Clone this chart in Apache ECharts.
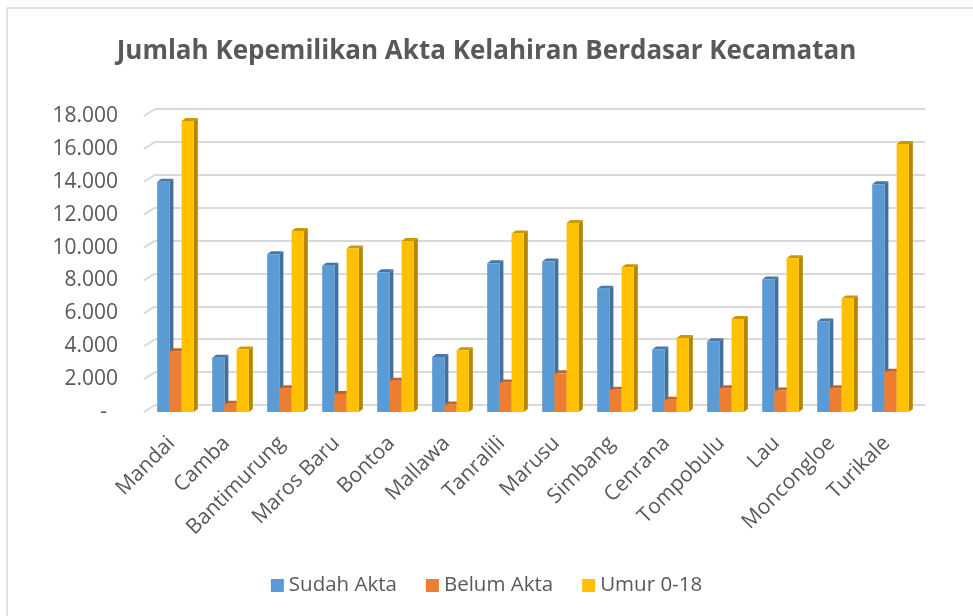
<!DOCTYPE html>
<html>
<head>
<meta charset="utf-8">
<script src="https://cdn.jsdelivr.net/npm/echarts@6/dist/echarts.min.js"></script>
<style>
	html, body { margin: 0; padding: 0; background: #fff; }
	#chart { width: 973px; height: 616px; }
</style>
</head>
<body>
<div id="chart"></div>
<script>
'use strict';

var kecamatan = ['Mandai', 'Camba', 'Bantimurung', 'Maros Baru', 'Bontoa', 'Mallawa', 'Tanralili',
		'Marusu', 'Simbang', 'Cenrana', 'Tompobulu', 'Lau', 'Moncongloe', 'Turikale'];
var sudahAkta = [14000, 3300, 9600, 8900, 8500, 3350, 9050, 9150, 7500, 3800, 4300, 8050, 5500, 13850];
var belumAkta = [3700, 500, 1450, 1100, 1900, 450, 1800, 2350, 1350, 750, 1450, 1300, 1450, 2450];
var umur018 = [17700, 3800, 11000, 9950, 10400, 3750, 10850, 11500, 8800, 4500, 5650, 9350, 6900, 16300];
var yTicks = [0, 2000, 4000, 6000, 8000, 10000, 12000, 14000, 16000, 18000];

var textColor = '#595959',
		gridColor = '#d9d9d9',
		depthX = 4, depthY = 3,   // bar depth
		wallX = 11, wallY = 7;    // back wall offset

// accounting style: 12.000, zero as a dash
function fmtNum(v) {
	if (v === 0) return '-  ';
	return String(v).replace(/\B(?=(\d{3})+(?!\d))/g, '.');
}

function barSeries(name, values, idx, front, side, top) {
	return {
		name: name,
		type: 'custom',
		xAxisIndex: 1,
		yAxisIndex: 1,
		itemStyle: { color: front },
		data: values.map(function (v, i) { return [i, v]; }),
		renderItem: function (params, api) {
			var cat = api.value(0),
					base = api.coord([cat, 0]),
					tp = api.coord([cat, api.value(1)]),
					band = api.size([1, 0])[0],
					bw = band * 0.222,
					x0 = base[0] - 1.5 * bw + idx * bw + 4,
					x1 = x0 + bw,
					y0 = tp[1], y1 = base[1];
			return {
				type: 'group',
				children: [
					{ type: 'polygon', shape: { points: [[x1, y0], [x1 + depthX, y0 - depthY], [x1 + depthX, y1 - depthY], [x1, y1]] }, style: { fill: side } },
					{ type: 'polygon', shape: { points: [[x0, y0], [x0 + depthX, y0 - depthY], [x1 + depthX, y0 - depthY], [x1, y0]] }, style: { fill: top } },
					{ type: 'rect', shape: { x: x0, y: y0, width: bw, height: y1 - y0 }, style: { fill: front } }
				]
			};
		}
	};
}

var chart = echarts.init(document.getElementById('chart'));

chart.setOption({
	animation: false,
	backgroundColor: '#fff',
	graphic: [{
		type: 'rect',
		shape: { x: 7, y: 8, width: 1000, height: 700 },
		style: { fill: 'none', stroke: gridColor, lineWidth: 1.5 },
		silent: true
	}],
	title: {
		text: 'Jumlah Kepemilikan Akta Kelahiran Berdasar Kecamatan',
		left: 'center',
		top: 34,
		textStyle: { fontFamily: 'Open Sans', fontWeight: 'bold', fontSize: 26, color: textColor }
	},
	legend: {
		bottom: 15,
		left: 'center',
		icon: 'rect',
		itemWidth: 13,
		itemHeight: 13,
		itemGap: 29,
		textStyle: { fontFamily: 'Open Sans', fontSize: 20.5, color: textColor },
		data: ['Sudah Akta', 'Belum Akta', 'Umur 0-18']
	},
	grid: [
		// back wall
		{ left: 155, right: 48, top: 109, bottom: 211 },
		// front plane
		{ left: 144, right: 59, top: 116, bottom: 204 }
	],
	xAxis: [
		{ gridIndex: 0, type: 'category', data: kecamatan, show: false },
		{
			gridIndex: 1,
			type: 'category',
			data: kecamatan,
			axisLine: { show: false },
			axisTick: { show: false },
			axisLabel: { rotate: 45, margin: 28, interval: 0, fontFamily: 'Open Sans', fontSize: 21, color: textColor }
		}
	],
	yAxis: [
		{
			gridIndex: 0, type: 'value', min: 0, max: 18000, interval: 2000,
			axisLabel: { show: false }, axisLine: { show: false }, axisTick: { show: false },
			splitLine: { lineStyle: { color: gridColor, width: 2 } }
		},
		{
			gridIndex: 1, type: 'value', min: 0, max: 18000, interval: 2000,
			axisLine: { show: false }, axisTick: { show: false },
			splitLine: { show: false },
			axisLabel: { margin: 26, fontFamily: 'Open Sans', fontSize: 21, color: textColor, formatter: fmtNum }
		}
	],
	series: [
		{
			type: 'custom',
			xAxisIndex: 1,
			yAxisIndex: 1,
			silent: true,
			data: yTicks.map(function (v) { return [0, v]; }),
			renderItem: function (params, api) {
				var p = api.coord([0, api.value(1)]),
						x = p[0] - api.size([1, 0])[0] / 2;
				return {
					type: 'line',
					shape: { x1: x, y1: p[1], x2: x + wallX, y2: p[1] - wallY },
					style: { stroke: gridColor, lineWidth: 2 }
				};
			}
		},
		barSeries('Sudah Akta', sudahAkta, 0, '#5b9bd5', '#41719c', '#4677a6'),
		barSeries('Belum Akta', belumAkta, 1, '#ed7d31', '#ae5a21', '#c0642a'),
		barSeries('Umur 0-18', umur018, 2, '#ffc000', '#b38700', '#c99a00')
	]
});
</script>
</body>
</html>
